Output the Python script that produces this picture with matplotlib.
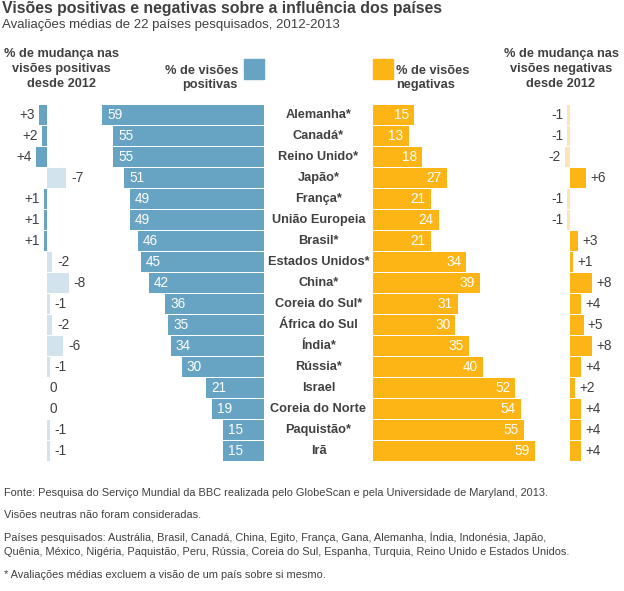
import matplotlib
matplotlib.use("Agg")
import matplotlib.pyplot as plt

plt.rcParams['font.family'] = ['Liberation Sans', 'DejaVu Sans']

# data
countries = ['Alemanha*', 'Canadá*', 'Reino Unido*', 'Japão*', 'França*',
             'União Europeia', 'Brasil*', 'Estados Unidos*', 'China*',
             'Coreia do Sul*', 'África do Sul', 'Índia*', 'Rússia*', 'Israel',
             'Coreia do Norte', 'Paquistão*', 'Irã']
positive = [59, 55, 55, 51, 49, 49, 46, 45, 42, 36, 35, 34, 30, 21, 19, 15, 15]
negative = [15, 13, 18, 27, 21, 24, 21, 34, 39, 31, 30, 35, 40, 52, 54, 55, 59]
pos_change = [3, 2, 4, -7, 1, 1, 1, -2, -8, -1, -2, -6, -1, 0, 0, -1, -1]
neg_change = [-1, -1, -2, 6, -1, -1, 3, 1, 8, 4, 5, 8, 4, 2, 4, 4, 4]

BLUE = '#67a3c3'
LIGHT_BLUE = '#d3e3ee'
ORANGE = '#fdb515'
LIGHT_ORANGE = '#fce4b8'
TXT = '#404040'

W, H = 624, 591
SCALE = 2.74  # pixels per percentage point
fig = plt.figure(figsize=(W / 100, H / 100), dpi=100)


def fx(px):
    return px / W


def fy(py):
    return 1 - py / H


def panel(x0, x1, y0=104.5, y1=461.5):
    ax = fig.add_axes([fx(x0), fy(y1), fx(x1) - fx(x0), (y1 - y0) / H])
    ax.set_ylim(len(countries) - 0.5, -0.5)
    ax.axis('off')
    return ax


rows = list(range(len(countries)))
bh = 20 / 21
fs = 9.2      # country names / headers
nfs = 9.8     # numbers

# left: change in positive views (gains drawn to the left of zero)
ax_lc = panel(10, 90)
ax_lc.set_xlim((10 - 47) / SCALE, (90 - 47) / SCALE)
ax_lc.barh(rows, [-c for c in pos_change], height=bh,
           color=[BLUE if c > 0 else LIGHT_BLUE for c in pos_change])
for i, c in enumerate(pos_change):
    if c > 0:
        ax_lc.annotate(f'+{c}', (-c, i), xytext=(-3, 0), textcoords='offset points',
                       ha='right', va='center', fontsize=nfs, color=TXT)
    elif c < 0:
        ax_lc.annotate(f'{c}', (-c, i), xytext=(3.5, 0), textcoords='offset points',
                       ha='left', va='center', fontsize=nfs, color=TXT)
    else:
        ax_lc.annotate('0', (0, i), xytext=(2, 0), textcoords='offset points',
                       ha='left', va='center', fontsize=nfs, color=TXT)

# positive views
ax_pos = panel(90, 264)
ax_pos.set_xlim((264 - 90) / SCALE, 0)
ax_pos.barh(rows, positive, height=bh, color=BLUE)
for i, v in enumerate(positive):
    ax_pos.annotate(str(v), (v, i), xytext=(3.6, 0), textcoords='offset points',
                    ha='left', va='center', fontsize=nfs, color='white')

# country names
ax_mid = panel(264, 373)
ax_mid.set_xlim(0, 1)
for i, name in enumerate(countries):
    ax_mid.text(0.5, i, name, ha='center', va='center', fontsize=fs,
                fontweight='bold', color=TXT)

# negative views
ax_neg = panel(373, 560)
ax_neg.set_xlim(0, (560 - 373) / SCALE)
ax_neg.barh(rows, negative, height=bh, color=ORANGE)
for i, v in enumerate(negative):
    ax_neg.annotate(str(v), (v, i), xytext=(-3.6, 0), textcoords='offset points',
                    ha='right', va='center', fontsize=nfs, color='white')

# right: change in negative views
ax_rc = panel(530, 620)
ax_rc.set_xlim((530 - 570) / SCALE, (620 - 570) / SCALE)
ax_rc.barh(rows, neg_change, height=bh,
           color=[ORANGE if c > 0 else LIGHT_ORANGE for c in neg_change])
for i, c in enumerate(neg_change):
    if c > 0:
        ax_rc.annotate(f'+{c}', (c, i), xytext=(3, 0), textcoords='offset points',
                       ha='left', va='center', fontsize=nfs, color=TXT)
    else:
        ax_rc.annotate(f'{c}', (c, i), xytext=(-3, 0), textcoords='offset points',
                       ha='right', va='center', fontsize=nfs, color=TXT)

# headers
fig.text(fx(2), fy(1), 'Visões positivas e negativas sobre a influência dos países',
         ha='left', va='top', fontsize=11.4, fontweight='bold', color=TXT)
fig.text(fx(2), fy(19), 'Avaliações médias de 22 países pesquisados, 2012-2013',
         ha='left', va='top', fontsize=9.5, color=TXT)

hdr = dict(fontsize=fs, fontweight='bold', color=TXT, linespacing=1.28)
fig.text(fx(61.5), fy(48.5), '% de mudança nas\nvisões positivas\ndesde 2012',
         ha='center', va='top', multialignment='center', **hdr)
fig.text(fx(561), fy(48.5), '% de mudança nas\nvisões negativas\ndesde 2012',
         ha='center', va='top', multialignment='center', **hdr)
fig.text(fx(238), fy(64.5), '% de visões\npositivas', ha='right', va='top',
         multialignment='right', **hdr)
fig.text(fx(396), fy(64.5), '% de visões\nnegativas', ha='left', va='top',
         multialignment='left', **hdr)
fig.patches.append(plt.Rectangle((fx(244), fy(79)), 20 / W, 20 / H,
                                 transform=fig.transFigure, color=BLUE))
fig.patches.append(plt.Rectangle((fx(373), fy(79)), 20 / W, 20 / H,
                                 transform=fig.transFigure, color=ORANGE))

# footer
foot = dict(ha='left', va='center', fontsize=7.9, color=TXT)
fig.text(fx(4), fy(493), 'Fonte: Pesquisa do Serviço Mundial da BBC realizada pelo '
         'GlobeScan e pela Universidade de Maryland, 2013.', **foot)
fig.text(fx(4), fy(515), 'Visões neutras não foram consideradas.', **foot)
fig.text(fx(4), fy(537), 'Países pesquisados: Austrália, Brasil, Canadá, China, Egito, '
         'França, Gana, Alemanha, Índia, Indonésia, Japão,', **foot)
fig.text(fx(4), fy(552), 'Quênia, México, Nigéria, Paquistão, Peru, Rússia, Coreia do Sul, '
         'Espanha, Turquia, Reino Unido e Estados Unidos.', **foot)
fig.text(fx(4), fy(575), '* Avaliações médias excluem a visão de um país sobre si mesmo.',
         **foot)

fig.savefig('out.png', dpi=100)
